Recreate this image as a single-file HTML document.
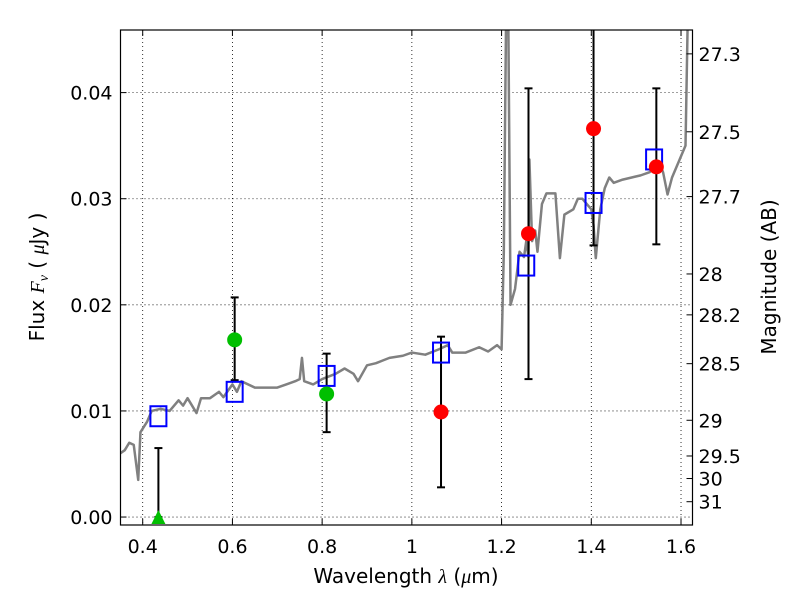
<!DOCTYPE html>
<html><head><meta charset="utf-8"><style>
body{margin:0;background:#fff}
svg{display:block;font-family:"DejaVu Sans","Liberation Sans",sans-serif}
</style></head><body>
<svg id="c" width="800" height="600" viewBox="0 0 800 600"></svg>
<script>
const xTicks=[0.4,0.6,0.8,1.0,1.2,1.4,1.6];
const xTickLabels=["0.4","0.6","0.8","1","1.2","1.4","1.6"];
const yTicks=[0,0.01,0.02,0.03,0.04];
const yTickLabels=["0.00","0.01","0.02","0.03","0.04"];
const magTicks=[27.3,27.5,27.7,28,28.2,28.5,29,29.5,30,31];
const magTickLabels=["27.3","27.5","27.7","28","28.2","28.5","29","29.5","30","31"];
const specLam=[0.35,0.36,0.37,0.38,0.39,0.395,0.41,0.42,0.44,0.46,0.48,0.49,0.50,0.52,0.53,0.55,0.57,0.58,0.60,0.61,0.62,0.65,0.68,0.70,0.72,0.74,0.75,0.755,0.76,0.78,0.80,0.83,0.85,0.87,0.88,0.90,0.92,0.95,0.98,1.00,1.03,1.06,1.08,1.09,1.12,1.15,1.17,1.19,1.20,1.205,1.21,1.215,1.22,1.23,1.24,1.25,1.255,1.26,1.262,1.268,1.275,1.28,1.29,1.30,1.32,1.33,1.34,1.36,1.37,1.38,1.39,1.40,1.405,1.41,1.42,1.43,1.44,1.45,1.47,1.49,1.51,1.53,1.55,1.56,1.57,1.58,1.60,1.61,1.615,1.62];
const specFlux=[0.0060,0.0063,0.0070,0.0068,0.0035,0.0080,0.0090,0.0100,0.0102,0.0100,0.0110,0.0105,0.0112,0.0098,0.0112,0.0112,0.0118,0.0113,0.0125,0.0118,0.0128,0.0122,0.0122,0.0122,0.0125,0.0128,0.0130,0.0150,0.0128,0.0125,0.0130,0.0135,0.0140,0.0135,0.0128,0.0143,0.0145,0.0150,0.0152,0.0155,0.0153,0.0158,0.0162,0.0155,0.0155,0.0160,0.0156,0.0162,0.0158,0.0250,0.0470,0.0470,0.0200,0.0215,0.0250,0.0245,0.0260,0.0245,0.0337,0.0260,0.0270,0.0250,0.0295,0.0305,0.0305,0.0244,0.0285,0.0290,0.0300,0.0300,0.0295,0.0290,0.0275,0.0244,0.0290,0.0310,0.0320,0.0315,0.0318,0.0320,0.0322,0.0325,0.0335,0.0325,0.0304,0.0320,0.0340,0.0350,0.0470,0.0470];
const obsLam=[0.435,0.605,0.81,1.065,1.26,1.405,1.545];
const obsFlux=[0.0,0.0167,0.0116,0.0099,0.0267,0.0366,0.0330];
const obsLo=[0.0,0.0129,0.0080,0.0028,0.0130,0.0256,0.0257];
const obsHi=[0.0065,0.0207,0.0154,0.0170,0.0404,0.0480,0.0404];
const obsColor=["g","g","g","r","r","r","r"];
const modLam=[0.435,0.605,0.81,1.065,1.255,1.405,1.54];
const modFlux=[0.0095,0.0118,0.0133,0.0155,0.0237,0.0296,0.0337];

const L=120.5,R=692.5,T=30,B=525;
const xMin=0.3505,xMax=1.6256,yMin=-0.00075,yMax=0.0459;
const sx=v=>L+(v-xMin)/(xMax-xMin)*(R-L);
const sy=v=>B-(v-yMin)/(yMax-yMin)*(B-T);
const magToFlux=m=>Math.pow(10,(23.9-m)/2.5);
const svg=document.getElementById('c');
const NS='http://www.w3.org/2000/svg';
function mk(t,a,p){const e=document.createElementNS(NS,t);for(const k in a)e.setAttribute(k,a[k]);(p||svg).appendChild(e);return e;}
const defs=mk('defs',{});const cp=mk('clipPath',{id:'cp'},defs);mk('rect',{x:L,y:T,width:R-L,height:B-T},cp);
const plot=mk('g',{'clip-path':'url(#cp)'});


xTicks.forEach(v=>{const g=mk('line',{x1:sx(v),x2:sx(v),y1:T,y2:B,stroke:'#000','stroke-width':0.8,'stroke-dasharray':'1,3'},plot);

});
yTicks.forEach(v=>{const g=mk('line',{x1:L,x2:R,y1:sy(v),y2:sy(v),stroke:'#000','stroke-width':0.8,'stroke-dasharray':'1,3'},plot);

});
const sp=mk('polyline',{points:specLam.map((l,i)=>sx(l)+','+sy(specFlux[i])).join(' '),fill:'none',stroke:'#808080','stroke-width':2.5,'stroke-linejoin':'round'},plot);


obsLam.forEach((l,i)=>{const x=sx(l);const g=mk('g',{stroke:'#000','stroke-width':2},plot);


mk('line',{x1:x,x2:x,y1:sy(obsLo[i]),y2:sy(obsHi[i])},g);
mk('line',{x1:x-4,x2:x+4,y1:sy(obsLo[i]),y2:sy(obsLo[i])},g);
mk('line',{x1:x-4,x2:x+4,y1:sy(obsHi[i]),y2:sy(obsHi[i])},g);});
modLam.forEach((l,i)=>{const r=mk('rect',{x:sx(l)-8,y:sy(modFlux[i])-10,width:16,height:20,fill:'none',stroke:'#0000ff','stroke-width':2},plot);

});
obsLam.forEach((l,i)=>{const x=sx(l),y=sy(obsFlux[i]);const col=obsColor[i]=='g'?'#00bf00':'#ff0000';let e;
if(obsFlux[i]<=0){e=mk('polygon',{points:`${x-7},${y+7} ${x+7},${y+7} ${x},${y-7}`,fill:col},plot);}
else e=mk('circle',{cx:x,cy:y,r:7.5,fill:col},plot);

});
const fr=mk('rect',{x:L,y:T,width:R-L,height:B-T,fill:'none',stroke:'#000','stroke-width':1.2});


xTicks.forEach((v,i)=>{const x=sx(v);mk('line',{x1:x,x2:x,y1:B,y2:B-6,stroke:'#000'});mk('line',{x1:x,x2:x,y1:T,y2:T+6,stroke:'#000'});
const t=mk('text',{x:x,y:B+28,'text-anchor':'middle','font-size':19});t.textContent=xTickLabels[i];

});
yTicks.forEach((v,i)=>{const y=sy(v);mk('line',{x1:L,x2:L+6,y1:y,y2:y,stroke:'#000'});
const t=mk('text',{x:L-8,y:y+7,'text-anchor':'end','font-size':19});t.textContent=yTickLabels[i];

});
magTicks.forEach((m,i)=>{const y=sy(magToFlux(m));mk('line',{x1:R,x2:R-6,y1:y,y2:y,stroke:'#000'});
const t=mk('text',{x:R+6,y:y+7,'font-size':19});t.textContent=magTickLabels[i];

});
function txt(x,y,rot,html){const t=document.createElementNS(NS,'text');t.setAttribute('x',x);t.setAttribute('y',y);t.setAttribute('text-anchor','middle');t.setAttribute('font-size','20');if(rot)t.setAttribute('transform',`rotate(-90 ${x} ${y})`);t.innerHTML=html;svg.appendChild(t);return t;}
const xt=txt(406,583,0,'Wavelength  <tspan font-style="italic" font-family="Liberation Serif, serif">λ</tspan> (<tspan font-style="italic" font-family="Liberation Serif, serif">μ</tspan>m)');


const yt=txt(44,277,1,'Flux  <tspan font-style="italic" font-family="Liberation Serif, serif">F</tspan><tspan font-style="italic" font-family="Liberation Serif, serif" font-size="14" dy="4">ν</tspan><tspan dy="-4">  ( </tspan><tspan font-style="italic" font-family="Liberation Serif, serif">μ</tspan>Jy )');


const mt=txt(776,277,1,'Magnitude (AB)');


</script>
</body></html>
